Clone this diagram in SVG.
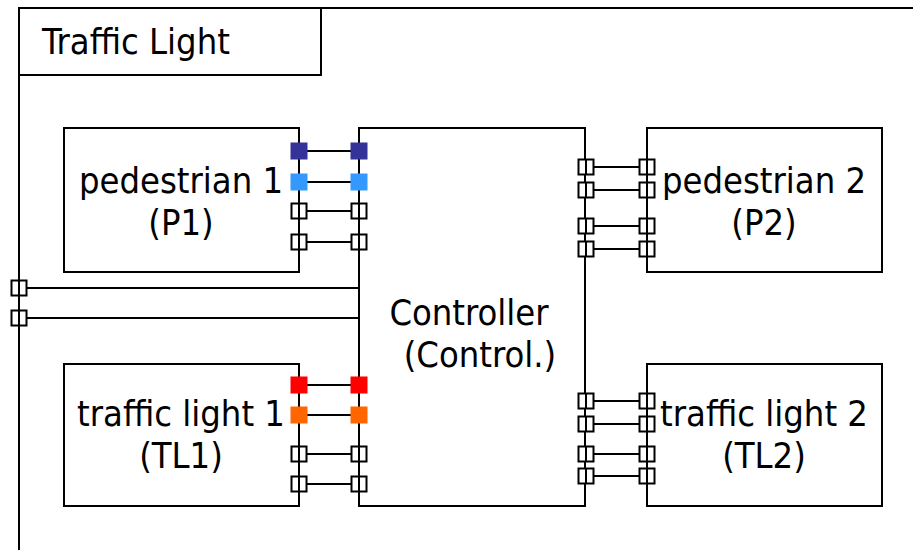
<svg xmlns="http://www.w3.org/2000/svg" width="913" height="550" viewBox="0 0 913 550">
<style>
.frame{fill:#fff;stroke:#000;stroke-width:2}
.node{fill:#fff;stroke:#000;stroke-width:2}
.lbl{font-family:"DejaVu Sans Condensed","DejaVu Sans",sans-serif;font-stretch:condensed;font-size:36px;fill:#000;text-anchor:middle}
.title{font-family:"DejaVu Sans Condensed","DejaVu Sans",sans-serif;font-stretch:condensed;font-size:36px;fill:#000}
.wire{stroke:#000;stroke-width:2;fill:none}
.port{fill:#fff;stroke:#000;stroke-width:2}
.pl{stroke:#000;stroke-width:2}
</style>
<defs>
<g id="op"><rect class="port" x="-7.5" y="-7.5" width="15" height="15"/><line class="pl" x1="0" y1="-8" x2="0" y2="8"/></g>
</defs>
<rect width="913" height="550" fill="#fff"/>
<g id="frame">
<rect class="frame" x="19" y="8" width="910" height="560"/>
<rect class="frame" x="19" y="8" width="302" height="67"/>
<text class="title" x="42" y="54">Traffic Light</text>
</g>
<g id="connectors">
<line class="wire" x1="307" y1="151" x2="351" y2="151"/>
<line class="wire" x1="307" y1="182" x2="351" y2="182"/>
<line class="wire" x1="306" y1="211" x2="352" y2="211"/>
<line class="wire" x1="306" y1="242" x2="352" y2="242"/>
<line class="wire" x1="594" y1="167" x2="639" y2="167"/>
<line class="wire" x1="594" y1="190" x2="639" y2="190"/>
<line class="wire" x1="594" y1="226" x2="639" y2="226"/>
<line class="wire" x1="594" y1="249" x2="639" y2="249"/>
<line class="wire" x1="307" y1="385" x2="351" y2="385"/>
<line class="wire" x1="307" y1="415" x2="351" y2="415"/>
<line class="wire" x1="306" y1="454" x2="352" y2="454"/>
<line class="wire" x1="306" y1="484" x2="352" y2="484"/>
<line class="wire" x1="594" y1="401" x2="639" y2="401"/>
<line class="wire" x1="594" y1="424" x2="639" y2="424"/>
<line class="wire" x1="594" y1="454" x2="639" y2="454"/>
<line class="wire" x1="594" y1="476" x2="639" y2="476"/>
<line class="wire" x1="27" y1="288" x2="359" y2="288"/>
<line class="wire" x1="27" y1="318" x2="359" y2="318"/>
</g>
<g id="P1">
<rect class="node" x="64" y="128" width="235" height="144"/>
<text class="lbl" x="181" y="193">pedestrian 1</text>
<text class="lbl" x="181" y="235">(P1)</text>
<rect x="290.5" y="142.5" width="17" height="17" fill="#333399"/>
<rect x="290.5" y="173.5" width="17" height="17" fill="#3399ff"/>
<use href="#op" x="299" y="211"/>
<use href="#op" x="299" y="242"/>
</g>
<g id="Control">
<rect class="node" x="359" y="128" width="226" height="378"/>
<text class="lbl" x="469" y="325">Controller</text>
<text class="lbl" x="480" y="367">(Control.)</text>
<rect x="350.5" y="142.5" width="17" height="17" fill="#333399"/>
<rect x="350.5" y="173.5" width="17" height="17" fill="#3399ff"/>
<use href="#op" x="359" y="211"/>
<use href="#op" x="359" y="242"/>
<rect x="350.5" y="376.5" width="17" height="17" fill="#ff0000"/>
<rect x="350.5" y="406.5" width="17" height="17" fill="#ff6600"/>
<use href="#op" x="359" y="454"/>
<use href="#op" x="359" y="484"/>
<use href="#op" x="586" y="167"/>
<use href="#op" x="586" y="190"/>
<use href="#op" x="586" y="226"/>
<use href="#op" x="586" y="249"/>
<use href="#op" x="586" y="401"/>
<use href="#op" x="586" y="424"/>
<use href="#op" x="586" y="454"/>
<use href="#op" x="586" y="476"/>
</g>
<g id="P2">
<rect class="node" x="647" y="128" width="235" height="144"/>
<text class="lbl" x="764" y="193">pedestrian 2</text>
<text class="lbl" x="764" y="235">(P2)</text>
<use href="#op" x="647" y="167"/>
<use href="#op" x="647" y="190"/>
<use href="#op" x="647" y="226"/>
<use href="#op" x="647" y="249"/>
</g>
<g id="TL1">
<rect class="node" x="64" y="364" width="235" height="142"/>
<text class="lbl" x="181" y="426">traffic light 1</text>
<text class="lbl" x="181" y="468">(TL1)</text>
<rect x="290.5" y="376.5" width="17" height="17" fill="#ff0000"/>
<rect x="290.5" y="406.5" width="17" height="17" fill="#ff6600"/>
<use href="#op" x="299" y="454"/>
<use href="#op" x="299" y="484"/>
</g>
<g id="TL2">
<rect class="node" x="647" y="364" width="235" height="142"/>
<text class="lbl" x="764" y="426">traffic light 2</text>
<text class="lbl" x="764" y="468">(TL2)</text>
<use href="#op" x="647" y="401"/>
<use href="#op" x="647" y="424"/>
<use href="#op" x="647" y="454"/>
<use href="#op" x="647" y="476"/>
</g>
<g id="boundary-ports">
<use href="#op" x="19" y="288"/>
<use href="#op" x="19" y="318"/>
</g>
</svg>
